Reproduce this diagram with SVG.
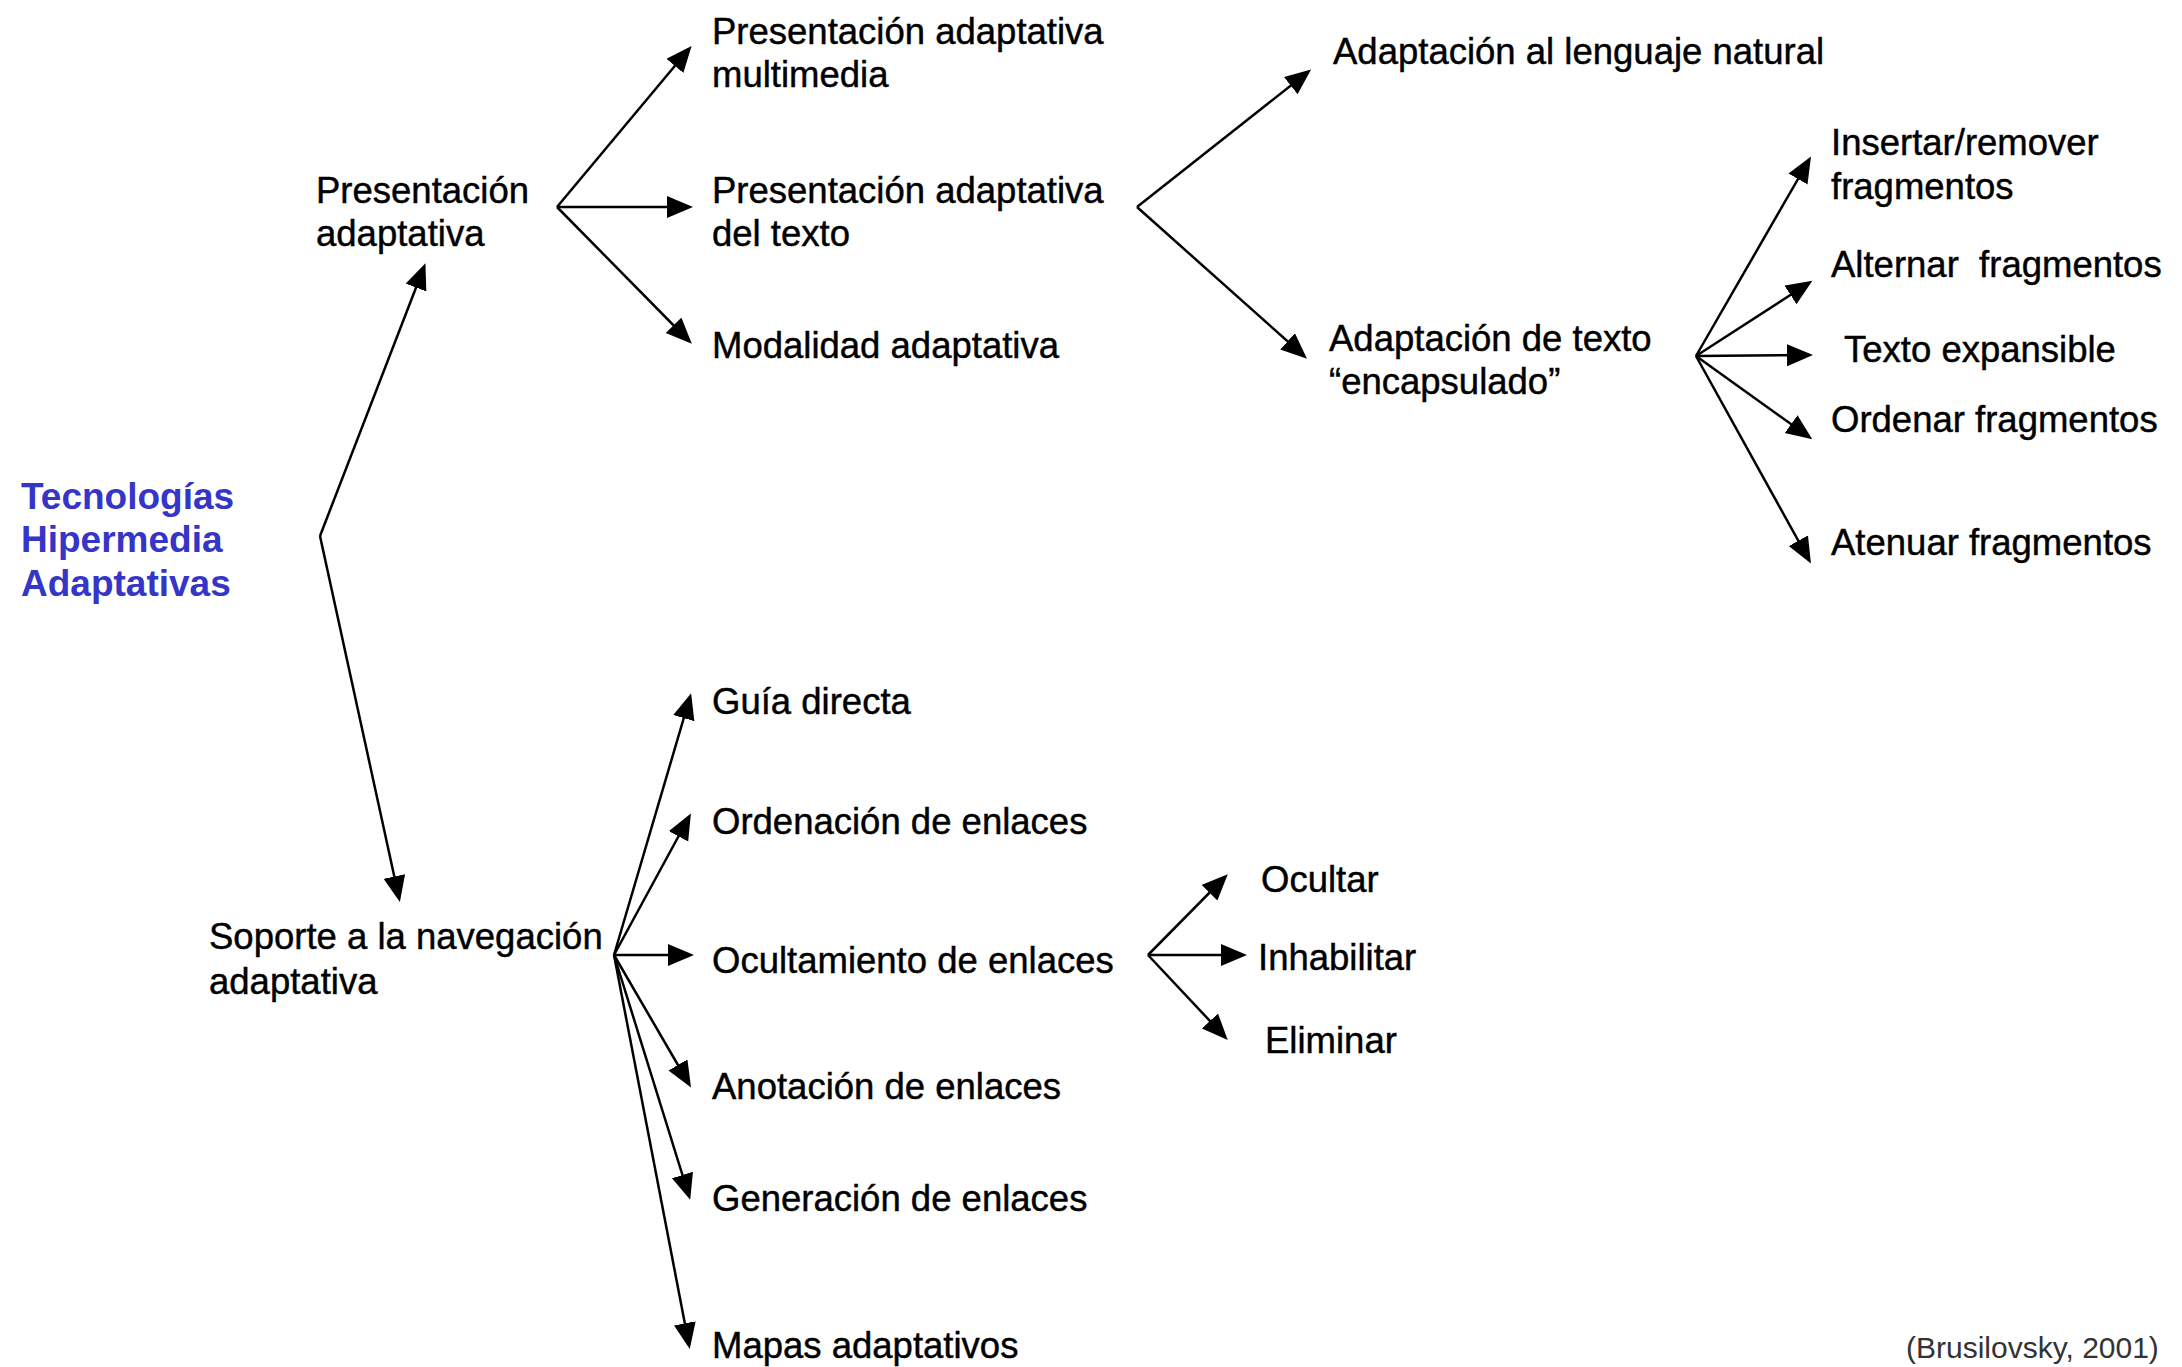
<svg xmlns="http://www.w3.org/2000/svg" width="2182" height="1367" viewBox="0 0 2182 1367">
<style>
text{font-family:"Liberation Sans",Arial,sans-serif;font-size:36.5px;fill:#000;stroke:#000;stroke-width:0.45}
.title{font-weight:bold;font-size:37px;fill:#3535c8;stroke:none}
.cite{font-size:30px;fill:#333;stroke:none}
.c line{stroke:#000;stroke-width:2.5;marker-end:url(#ah)}
</style>
<defs>
<marker id="ah" markerUnits="userSpaceOnUse" markerWidth="28" markerHeight="24" refX="22" refY="11" orient="auto">
<path d="M0,0 L26,11 L0,22 z" fill="#000"/>
</marker>
</defs>
<rect width="2182" height="1367" fill="#fff"/>
<g id="connectors" class="c">
<line x1="320" y1="536" x2="424" y2="267"/>
<line x1="320" y1="536" x2="399" y2="898"/>
<line x1="557" y1="207" x2="689" y2="49"/>
<line x1="557" y1="207" x2="689" y2="207"/>
<line x1="557" y1="207" x2="689" y2="341"/>
<line x1="1137" y1="207" x2="1308" y2="72"/>
<line x1="1137" y1="207" x2="1304" y2="356"/>
<line x1="1696" y1="356" x2="1809" y2="160"/>
<line x1="1696" y1="356" x2="1809" y2="283"/>
<line x1="1696" y1="356" x2="1809" y2="355"/>
<line x1="1696" y1="356" x2="1809" y2="437"/>
<line x1="1696" y1="356" x2="1809" y2="560"/>
<line x1="614" y1="955" x2="690" y2="697"/>
<line x1="614" y1="955" x2="689" y2="817"/>
<line x1="614" y1="955" x2="690" y2="955"/>
<line x1="614" y1="955" x2="689" y2="1084"/>
<line x1="614" y1="955" x2="689" y2="1196"/>
<line x1="614" y1="955" x2="689" y2="1345"/>
<line x1="1148" y1="955" x2="1225" y2="877"/>
<line x1="1148" y1="955" x2="1243" y2="955"/>
<line x1="1148" y1="955" x2="1225" y2="1037"/>
</g>
<g id="root"><text class="title" x="21" y="509">Tecnologías</text><text class="title" x="21" y="552">Hipermedia</text><text class="title" x="21" y="596">Adaptativas</text></g>
<g id="presentacion"><text x="316" y="203">Presentación</text><text x="316" y="246">adaptativa</text></g>
<g id="multimedia"><text x="712" y="44">Presentación adaptativa</text><text x="712" y="87">multimedia</text></g>
<g id="deltexto"><text x="712" y="203">Presentación adaptativa</text><text x="712" y="246">del texto</text></g>
<g id="modalidad"><text x="712" y="358">Modalidad adaptativa</text></g>
<g id="lenguaje"><text x="1333" y="64">Adaptación al lenguaje natural</text></g>
<g id="encapsulado"><text x="1329" y="351">Adaptación de texto</text><text x="1329" y="394">“encapsulado”</text></g>
<g id="insertar"><text x="1831" y="155">Insertar/remover</text><text x="1831" y="199">fragmentos</text></g>
<g id="alternar"><text x="1831" y="277" xml:space="preserve">Alternar  fragmentos</text></g>
<g id="expansible"><text x="1844" y="362">Texto expansible</text></g>
<g id="ordenar"><text x="1831" y="432">Ordenar fragmentos</text></g>
<g id="atenuar"><text x="1831" y="555">Atenuar fragmentos</text></g>
<g id="soporte"><text x="209" y="949">Soporte a la navegación</text><text x="209" y="994">adaptativa</text></g>
<g id="guia"><text x="712" y="714">Guía directa</text></g>
<g id="ordenacion"><text x="712" y="834">Ordenación de enlaces</text></g>
<g id="ocultamiento"><text x="712" y="973">Ocultamiento de enlaces</text></g>
<g id="anotacion"><text x="712" y="1099">Anotación de enlaces</text></g>
<g id="generacion"><text x="712" y="1211">Generación de enlaces</text></g>
<g id="mapas"><text x="712" y="1358">Mapas adaptativos</text></g>
<g id="ocultar"><text x="1261" y="892">Ocultar</text></g>
<g id="inhabilitar"><text x="1258" y="970">Inhabilitar</text></g>
<g id="eliminar"><text x="1265" y="1053">Eliminar</text></g>
<g id="cita"><text class="cite" x="1906" y="1358">(Brusilovsky, 2001)</text></g>
</svg>
